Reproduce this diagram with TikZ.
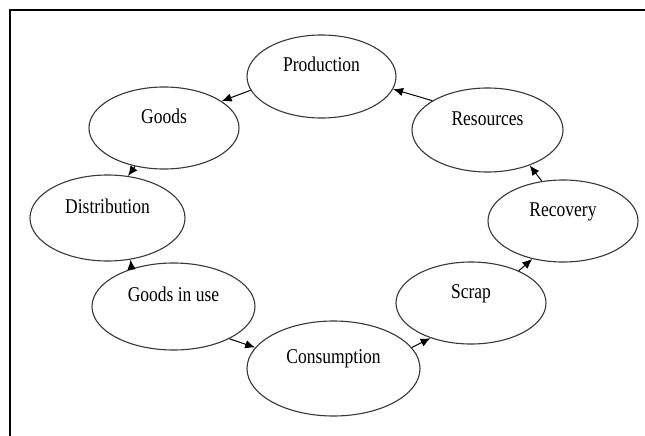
\documentclass[tikz,border=0pt]{standalone}
\usepackage{fontspec}
\setmainfont{Liberation Serif}
\usetikzlibrary{shapes.geometric,arrows.meta}

% Tall, narrow lettering used inside the cycle stages
\newcommand{\stagetext}[1]{\scalebox{1}[1.2]{#1}}

\tikzset{
  stage/.style={draw=black!78, line width=1.1pt, ellipse, inner sep=0pt,
                minimum width=150pt, minimum height=82pt},
  stagelabel/.style={font=\fontsize{17.5}{20}\selectfont, inner sep=0pt,
                     text height=14pt, text depth=0pt, yshift=12pt},
  flow/.style={draw=black, line width=1pt, -{Latex[length=10pt,width=8.5pt]}},
  frame/.style={draw=black, line width=2pt}
}

\begin{document}
\begin{tikzpicture}[x=1pt, y=-1pt]
  \useasboundingbox (0,0) rectangle (645,436);
  \fill[white] (0,0) rectangle (645,436);

  % frame along the top and left edges
  \coordinate (frameTR) at (645,10);
  \coordinate (frameTL) at (10,10);
  \coordinate (frameBL) at (10,436);
  \draw[frame] (frameTR) -- (frameTL) -- (frameBL);

  % stages of the material cycle
  \node[stage, minimum width=149pt, minimum height=83pt,
        label={[stagelabel]center:\stagetext{Production}}] (prod) at (321.5,76.5) {};
  \node[stage,
        label={[stagelabel]center:\stagetext{Goods}}] (goods) at (164,128) {};
  \node[stage, minimum width=155pt, minimum height=86pt,
        label={[stagelabel]center:\stagetext{Distribution}}] (dist) at (107.5,218) {};
  \node[stage, minimum width=163pt, minimum height=87pt,
        label={[stagelabel]center:\stagetext{Goods in use}}] (use) at (173.5,306.5) {};
  \node[stage, minimum width=173pt, minimum height=95pt,
        label={[stagelabel]center:\stagetext{Consumption}}] (cons) at (333.5,368.5) {};
  \node[stage,
        label={[stagelabel]center:\stagetext{Scrap}}] (scrap) at (471,303) {};
  \node[stage,
        label={[stagelabel]center:\stagetext{Recovery}}] (recov) at (563,221) {};
  \node[stage, minimum width=151pt, minimum height=84pt,
        label={[stagelabel]center:\stagetext{Resources}}] (res) at (487.5,130) {};

  % flows between the stages
  \draw[flow] (prod.191) -- (goods.25);
  \draw[flow] (goods.233) -- (dist.64);
  \draw[flow] (use.138) -- (dist.299);
  \draw[flow] (use.330) -- (cons.165);
  \draw[flow] (cons.15) -- (scrap.221);
  \draw[flow] (scrap.34) -- (recov.231);
  \draw[flow] (recov.118) -- (res.320);
  \draw[flow] (res.152) -- (prod.350);
\end{tikzpicture}
\end{document}
